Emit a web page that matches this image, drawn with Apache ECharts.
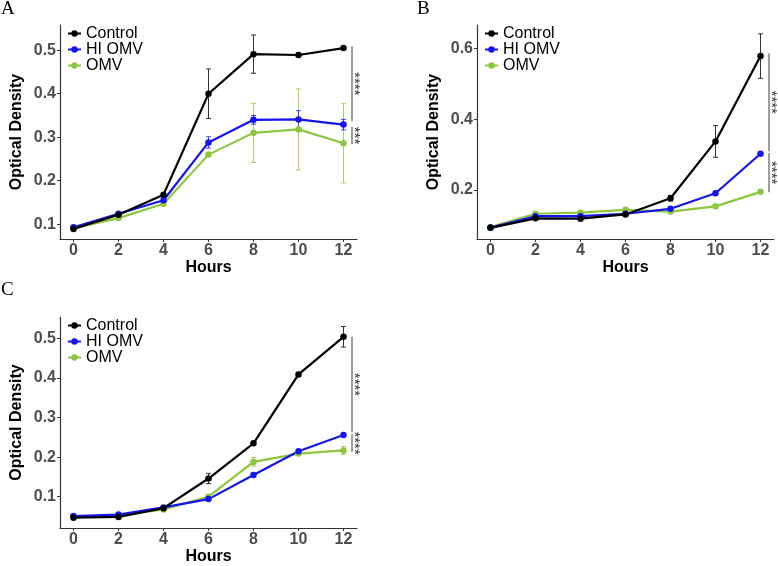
<!DOCTYPE html>
<html><head><meta charset="utf-8">
<script src="https://cdn.jsdelivr.net/npm/echarts@6/dist/echarts.min.js"></script>
<style>html,body{margin:0;padding:0;background:#fff}#c{width:778px;height:566px}</style>
</head><body><div id="c"></div>
<script>
// ---------- data ----------
const hours = [0, 2, 4, 6, 8, 10, 12];
const seriesNames = ['Control', 'HI OMV', 'OMV'];
const xTicks = [0, 2, 4, 6, 8, 10, 12];
const yTicksA = [0.1, 0.2, 0.3, 0.4, 0.5];
const yTicksB = [0.2, 0.4, 0.6];
const yTicksC = [0.1, 0.2, 0.3, 0.4, 0.5];
const panelLetters = ['A', 'B', 'C'];

const A_control    = [0.089, 0.122, 0.168, 0.400, 0.491, 0.489, 0.505];
const A_controlErr = [0.002, 0.003, 0.003, 0.057, 0.044, 0.003, 0.003];
const A_hi         = [0.093, 0.124, 0.155, 0.288, 0.340, 0.341, 0.329];
const A_hiErr      = [0.002, 0.003, 0.006, 0.013, 0.010, 0.020, 0.012];
const A_omv        = [0.091, 0.114, 0.147, 0.260, 0.310, 0.318, 0.286];
const A_omvErr     = [0.002, 0.003, 0.004, 0.004, 0.068, 0.093, 0.091];

const B_control    = [0.092, 0.119, 0.118, 0.130, 0.176, 0.337, 0.579];
const B_controlErr = [0.002, 0.002, 0.002, 0.003, 0.008, 0.045, 0.063];
const B_hi         = [0.093, 0.125, 0.125, 0.132, 0.146, 0.190, 0.302];
const B_hiErr      = [0.002, 0.002, 0.002, 0.002, 0.003, 0.003, 0.004];
const B_omv        = [0.094, 0.132, 0.135, 0.143, 0.138, 0.153, 0.194];
const B_omvErr     = [0.002, 0.002, 0.002, 0.003, 0.002, 0.003, 0.003];

const C_control    = [0.047, 0.049, 0.071, 0.146, 0.235, 0.409, 0.504];
const C_controlErr = [0.002, 0.002, 0.003, 0.013, 0.003, 0.003, 0.026];
const C_hi         = [0.051, 0.055, 0.073, 0.094, 0.155, 0.215, 0.256];
const C_hiErr      = [0.002, 0.002, 0.003, 0.003, 0.003, 0.004, 0.004];
const C_omv        = [0.049, 0.052, 0.068, 0.100, 0.188, 0.209, 0.217];
const C_omvErr     = [0.002, 0.002, 0.003, 0.004, 0.011, 0.004, 0.010];

// significance brackets: [from, to, label]
const sigA = [[0.509, 0.337, '****'], [0.324, 0.284, '***']];
const sigB = [[0.587, 0.309, '****'], [0.304, 0.193, '****']];
const sigC = [[0.504, 0.263, '****'], [0.258, 0.213, '****']];

// ---------- styling ----------
const colors = {'Control': '#000000', 'HI OMV': '#1414f0', 'OMV': '#8dc63f'};
const FONT = '"Liberation Sans", Arial, sans-serif';

const panels = [
  {grid: {left: 60, top: 25, width: 297, height: 214}, yMin: 0.066, yMax: 0.558, yTicks: yTicksA,
   data: {'Control': [A_control, A_controlErr], 'HI OMV': [A_hi, A_hiErr], 'OMV': [A_omv, A_omvErr]}, sig: sigA,
   legend: {left: 67, top: 25.5}, letter: {x: 1, y: 0}},
  {grid: {left: 477, top: 25, width: 297, height: 214}, yMin: 0.0604, yMax: 0.667, yTicks: yTicksB,
   data: {'Control': [B_control, B_controlErr], 'HI OMV': [B_hi, B_hiErr], 'OMV': [B_omv, B_omvErr]}, sig: sigB,
   legend: {left: 484, top: 25.5}, letter: {x: 417, y: 0}},
  {grid: {left: 60, top: 317, width: 297, height: 214}, yMin: 0.021, yMax: 0.554, yTicks: yTicksC,
   data: {'Control': [C_control, C_controlErr], 'HI OMV': [C_hi, C_hiErr], 'OMV': [C_omv, C_omvErr]}, sig: sigC,
   legend: {left: 67, top: 317.5}, letter: {x: 1, y: 281}}
];

const option = {
  animation: false,
  backgroundColor: '#ffffff',
  textStyle: {fontFamily: FONT},
  grid: [], xAxis: [], yAxis: [], legend: [], series: [], graphic: []
};

const axisCommon = {
  axisLine: {show: true, onZero: false, lineStyle: {color: '#333333', width: 1.2}},
  axisTick: {show: true, length: 3, lineStyle: {color: '#333333', width: 1}},
  splitLine: {show: false}
};

panels.forEach((p, i) => {
  option.grid.push(Object.assign({containLabel: false}, p.grid));
  option.xAxis.push(Object.assign({}, axisCommon, {
    type: 'value', gridIndex: i, min: -0.6, max: 12.6,
    axisTick: Object.assign({}, axisCommon.axisTick, {customValues: xTicks}),
    axisLabel: {customValues: xTicks, color: '#4d4d4d', fontWeight: 'bold', fontSize: 16, margin: 4, fontFamily: FONT},
    name: 'Hours', nameLocation: 'middle', nameGap: 21,
    nameTextStyle: {color: '#000', fontWeight: 'bold', fontSize: 16, fontFamily: FONT}
  }));
  option.yAxis.push(Object.assign({}, axisCommon, {
    type: 'value', gridIndex: i, min: p.yMin, max: p.yMax,
    axisTick: Object.assign({}, axisCommon.axisTick, {customValues: p.yTicks}),
    axisLabel: {customValues: p.yTicks, color: '#4d4d4d', fontWeight: 'bold', fontSize: 16, margin: 4, fontFamily: FONT,
      formatter: v => v.toFixed(1)},
    name: 'Optical Density', nameLocation: 'middle', nameGap: 35, nameRotate: 90,
    nameTextStyle: {color: '#000', fontWeight: 'bold', fontSize: 16, fontFamily: FONT}
  }));
  option.legend.push({
    orient: 'vertical', left: p.legend.left, top: p.legend.top, padding: 0,
    data: seriesNames, itemWidth: 13, itemHeight: 8, itemGap: 0,
    textStyle: {fontSize: 16, lineHeight: 15.5, color: '#000', fontFamily: FONT}
  });

  // draw OMV first, then HI OMV, then Control on top
  ['OMV', 'HI OMV', 'Control'].forEach(name => {
    const vals = p.data[name][0], errs = p.data[name][1];
    const col = colors[name];
    option.series.push({
      type: 'line', name: name, xAxisIndex: i, yAxisIndex: i,
      data: hours.map((h, k) => [h, vals[k]]),
      symbol: 'circle', symbolSize: 6.5,
      lineStyle: {color: col, width: 2.2},
      itemStyle: {color: col},
      z: 3, silent: true
    });
    option.series.push({
      type: 'custom', name: name + ' error', xAxisIndex: i, yAxisIndex: i,
      data: hours.map((h, k) => [h, vals[k] - errs[k], vals[k] + errs[k]]),
      encode: {x: 0, y: [1, 2]},
      itemStyle: {color: col},
      renderItem: (params, api) => {
        const lo = api.coord([api.value(0), api.value(1)]);
        const hi = api.coord([api.value(0), api.value(2)]);
        const w = 2.5;
        const st = {stroke: col, lineWidth: 1, opacity: 0.8};
        return {type: 'group', children: [
          {type: 'line', shape: {x1: lo[0], y1: lo[1], x2: hi[0], y2: hi[1]}, style: st},
          {type: 'line', shape: {x1: lo[0] - w, y1: lo[1], x2: lo[0] + w, y2: lo[1]}, style: st},
          {type: 'line', shape: {x1: hi[0] - w, y1: hi[1], x2: hi[0] + w, y2: hi[1]}, style: st}
        ]};
      },
      z: 2, silent: true
    });
  });

  // significance brackets
  option.series.push({
    type: 'custom', name: 'significance', xAxisIndex: i, yAxisIndex: i, clip: false,
    data: p.sig.map(s => [hours[hours.length - 1], s[0], s[1], s[2]]),
    encode: {x: 0, y: [1, 2]},
    renderItem: (params, api) => {
      const a = api.coord([api.value(0), api.value(1)]);
      const b = api.coord([api.value(0), api.value(2)]);
      const x = a[0] + 8.5;
      const label = p.sig[params.dataIndex][2];
      return {type: 'group', children: [
        {type: 'line', shape: {x1: x, y1: a[1], x2: x, y2: b[1]}, style: {stroke: '#7f7f7f', lineWidth: 1.5}},
        {type: 'text', x: x + 2, y: (a[1] + b[1]) / 2, rotation: -Math.PI / 2,
         style: {text: label, fill: '#333', fontSize: 15, fontFamily: FONT, align: 'center', verticalAlign: 'middle'}}
      ]};
    },
    z: 4, silent: true
  });

  option.graphic.push({
    type: 'text', left: p.letter.x, top: p.letter.y,
    style: {text: panelLetters[i], fill: '#000', font: '19px "Liberation Serif", "Times New Roman", serif'}
  });
});

const chart = echarts.init(document.getElementById('c'), null, {renderer: 'canvas'});
chart.setOption(option);
</script>
</body></html>
